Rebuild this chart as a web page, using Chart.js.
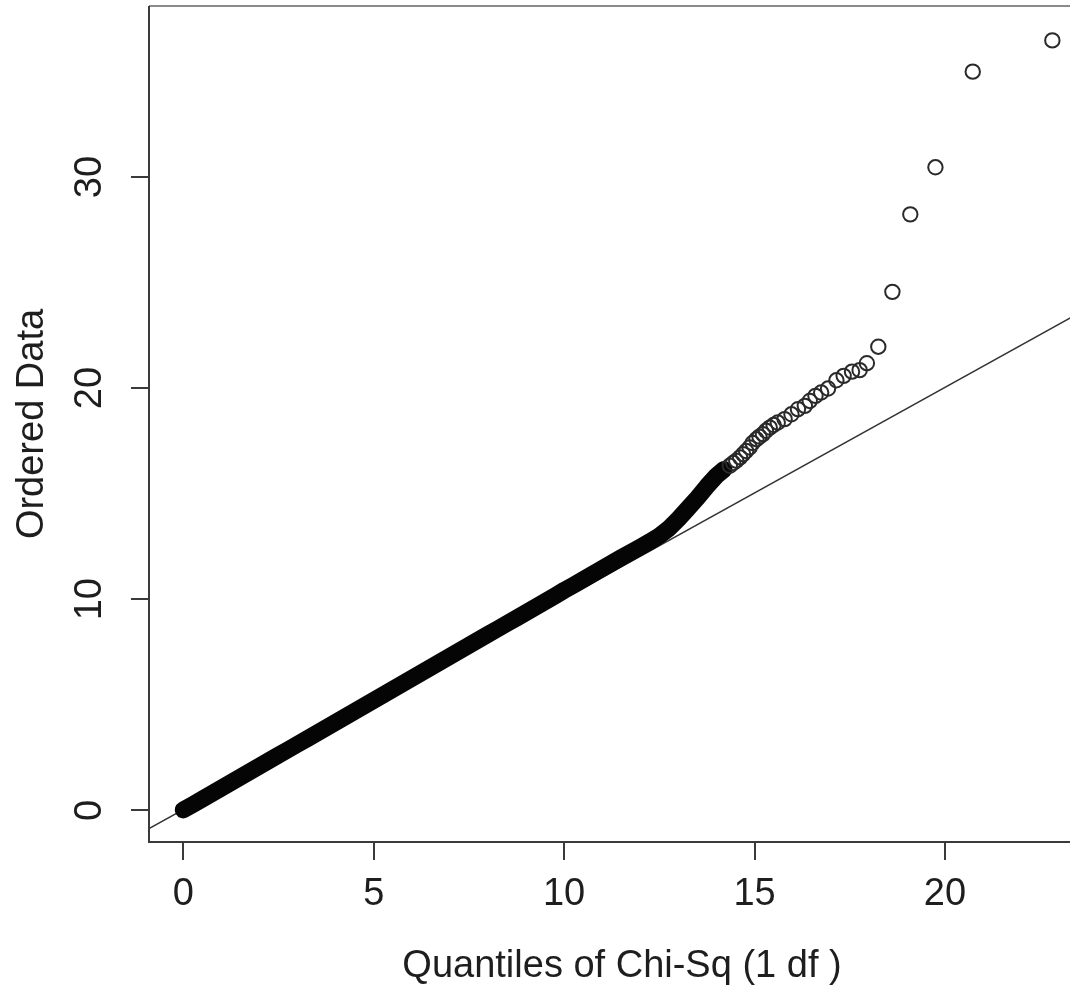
<!DOCTYPE html>
<html>
<head>
<meta charset="utf-8">
<title>QQ plot - Chi-Sq (1 df)</title>
<script src="https://cdn.jsdelivr.net/npm/chart.js@4.4.0/dist/chart.umd.min.js"></script>
<style>
    html, body { margin: 0; padding: 0; background: #ffffff; }
    #wrap { width: 1070px; height: 986px; overflow: hidden; position: relative; }
    #qqChart { display: block; }
</style>
</head>
<body>
<div id="wrap">
    <canvas id="qqChart" width="1090" height="986"></canvas>
</div>
<script>
// Faixa densa de pontos (quantis baixos, os circulos se sobrepoem)
const bandX = [0, 0.25, 0.5, 0.75, 1, 1.25, 1.5, 1.75, 2, 2.25, 2.5, 2.75, 3, 3.25, 3.5, 3.75,
    4, 4.25, 4.5, 4.75, 5, 5.25, 5.5, 5.75, 6, 6.25, 6.5, 6.75, 7, 7.25, 7.5, 7.75,
    8, 8.25, 8.5, 8.75, 9, 9.25, 9.5, 9.75, 10, 10.25, 10.5, 10.75, 11, 11.25, 11.5, 11.75,
    12, 12.25, 12.5, 12.75, 13, 13.25, 13.5, 13.75, 14, 14.2];
const bandY = [0.02, 0.27, 0.53, 0.79, 1.05, 1.31, 1.57, 1.83, 2.09, 2.35, 2.61, 2.87, 3.13, 3.39, 3.65, 3.91,
    4.17, 4.43, 4.69, 4.95, 5.21, 5.47, 5.73, 5.99, 6.25, 6.51, 6.77, 7.03, 7.29, 7.55, 7.81, 8.07,
    8.33, 8.59, 8.85, 9.11, 9.37, 9.63, 9.89, 10.15, 10.42, 10.67, 10.93, 11.19, 11.45, 11.71, 11.97, 12.22,
    12.47, 12.72, 13.0, 13.35, 13.8, 14.3, 14.8, 15.35, 15.85, 16.15];

// Pontos da cauda (circulos separados)
const tailX = [14.35, 14.44, 14.52, 14.62, 14.70, 14.78, 14.87, 14.95, 15.05, 15.13, 15.22, 15.30, 15.40, 15.50,
    15.61, 15.79, 15.97, 16.14, 16.32, 16.45, 16.60, 16.75, 16.93, 17.15, 17.34, 17.56, 17.76, 17.95,
    18.25, 18.62, 19.09, 19.75, 20.73, 22.82];
const tailY = [16.32, 16.45, 16.56, 16.72, 16.87, 17.02, 17.19, 17.40, 17.58, 17.70, 17.82, 17.98, 18.13, 18.25,
    18.37, 18.53, 18.76, 19.00, 19.16, 19.39, 19.63, 19.79, 19.98, 20.37, 20.58, 20.78, 20.85, 21.18,
    21.96, 24.56, 28.23, 30.46, 34.99, 36.47];

// Linha de referencia (qqline)
const refLineX = [-0.9, 23.73];
const refLineY = [-0.87, 23.76];

// Marcas dos eixos
const xTicks = [0, 5, 10, 15, 20];
const yTicks = [0, 10, 20, 30];

const xTitle = 'Quantiles of Chi-Sq (1 df )';
const yTitle = 'Ordered Data';

const FONT = '"Liberation Sans", Arial, Helvetica, sans-serif';
const FONT_SIZE = 38;
const TEXT_COLOR = '#1e1e1e';
const AXIS_COLOR = '#3a3a3a';

function toPoints(xs, ys) {
    return xs.map((x, i) => ({ x: x, y: ys[i] }));
}

// Plugin para desenhar caixa, rotulos do eixo y e titulos (estilo R)
const rStylePlugin = {
    id: 'rStyle',
    afterDraw(chart) {
        const ctx = chart.ctx;
        const area = chart.chartArea;
        const yScale = chart.scales.y;

        ctx.save();
        // caixa
        ctx.lineWidth = 2;
        ctx.strokeStyle = '#8a8a8a';
        ctx.beginPath();
        ctx.moveTo(area.left, area.top);
        ctx.lineTo(area.right, area.top);
        ctx.stroke();
        ctx.strokeStyle = AXIS_COLOR;
        ctx.beginPath();
        ctx.moveTo(area.left, area.top);
        ctx.lineTo(area.left, area.bottom);
        ctx.lineTo(area.right, area.bottom);
        ctx.stroke();

        ctx.fillStyle = TEXT_COLOR;
        ctx.font = FONT_SIZE + 'px ' + FONT;
        ctx.textAlign = 'center';
        ctx.textBaseline = 'middle';

        // rotulos do eixo y (verticais)
        yTicks.forEach(v => {
            const py = yScale.getPixelForValue(v);
            ctx.save();
            ctx.translate(91, py);
            ctx.rotate(-Math.PI / 2);
            ctx.fillText(String(v), 0, 0);
            ctx.restore();
        });

        // titulo eixo y
        ctx.save();
        ctx.translate(33, (area.top + area.bottom) / 2);
        ctx.rotate(-Math.PI / 2);
        ctx.fillText(yTitle, 0, 0);
        ctx.restore();

        // titulo eixo x
        ctx.fillText(xTitle, (area.left + area.right) / 2 + 4, 967);
        ctx.restore();
    }
};

const ctx = document.getElementById('qqChart');

new Chart(ctx, {
    type: 'scatter',
    data: {
        datasets: [
            {
                label: 'tail',
                data: toPoints(tailX, tailY),
                pointStyle: 'circle',
                pointRadius: 7.2,
                pointBorderWidth: 2,
                pointBorderColor: '#2a2a2a',
                pointBackgroundColor: 'rgba(0,0,0,0)',
                showLine: false,
                order: 0
            },
            {
                label: 'band',
                data: toPoints(bandX, bandY),
                showLine: true,
                borderColor: '#050505',
                borderWidth: 17,
                borderCapStyle: 'round',
                borderJoinStyle: 'round',
                pointRadius: 0,
                tension: 0,
                order: 1
            },
            {
                label: 'qqline',
                data: toPoints(refLineX, refLineY),
                showLine: true,
                borderColor: '#333333',
                borderWidth: 1.5,
                pointRadius: 0,
                order: 2
            }
        ]
    },
    options: {
        responsive: false,
        animation: false,
        events: [],
        layout: { autoPadding: false, padding: { top: 6, right: 3, left: 0, bottom: 0 } },
        plugins: {
            legend: { display: false },
            tooltip: { enabled: false }
        },
        scales: {
            x: {
                type: 'linear',
                min: -0.9,
                max: 23.73,
                afterFit(scale) { scale.height = 144; },
                afterBuildTicks(scale) { scale.ticks = xTicks.map(v => ({ value: v })); },
                border: { display: false },
                grid: {
                    drawOnChartArea: false,
                    drawTicks: true,
                    tickLength: 18,
                    color: AXIS_COLOR,
                    lineWidth: 2
                },
                ticks: {
                    color: TEXT_COLOR,
                    font: { family: FONT, size: FONT_SIZE },
                    padding: 12,
                    maxRotation: 0,
                    autoSkip: false
                }
            },
            y: {
                type: 'linear',
                min: -1.5,
                max: 38.1,
                afterFit(scale) { scale.width = 149; },
                afterBuildTicks(scale) { scale.ticks = yTicks.map(v => ({ value: v })); },
                border: { display: false },
                grid: {
                    drawOnChartArea: false,
                    drawTicks: true,
                    tickLength: 18,
                    color: AXIS_COLOR,
                    lineWidth: 2
                },
                ticks: { display: false }
            }
        }
    },
    plugins: [rStylePlugin]
});
</script>
</body>
</html>
